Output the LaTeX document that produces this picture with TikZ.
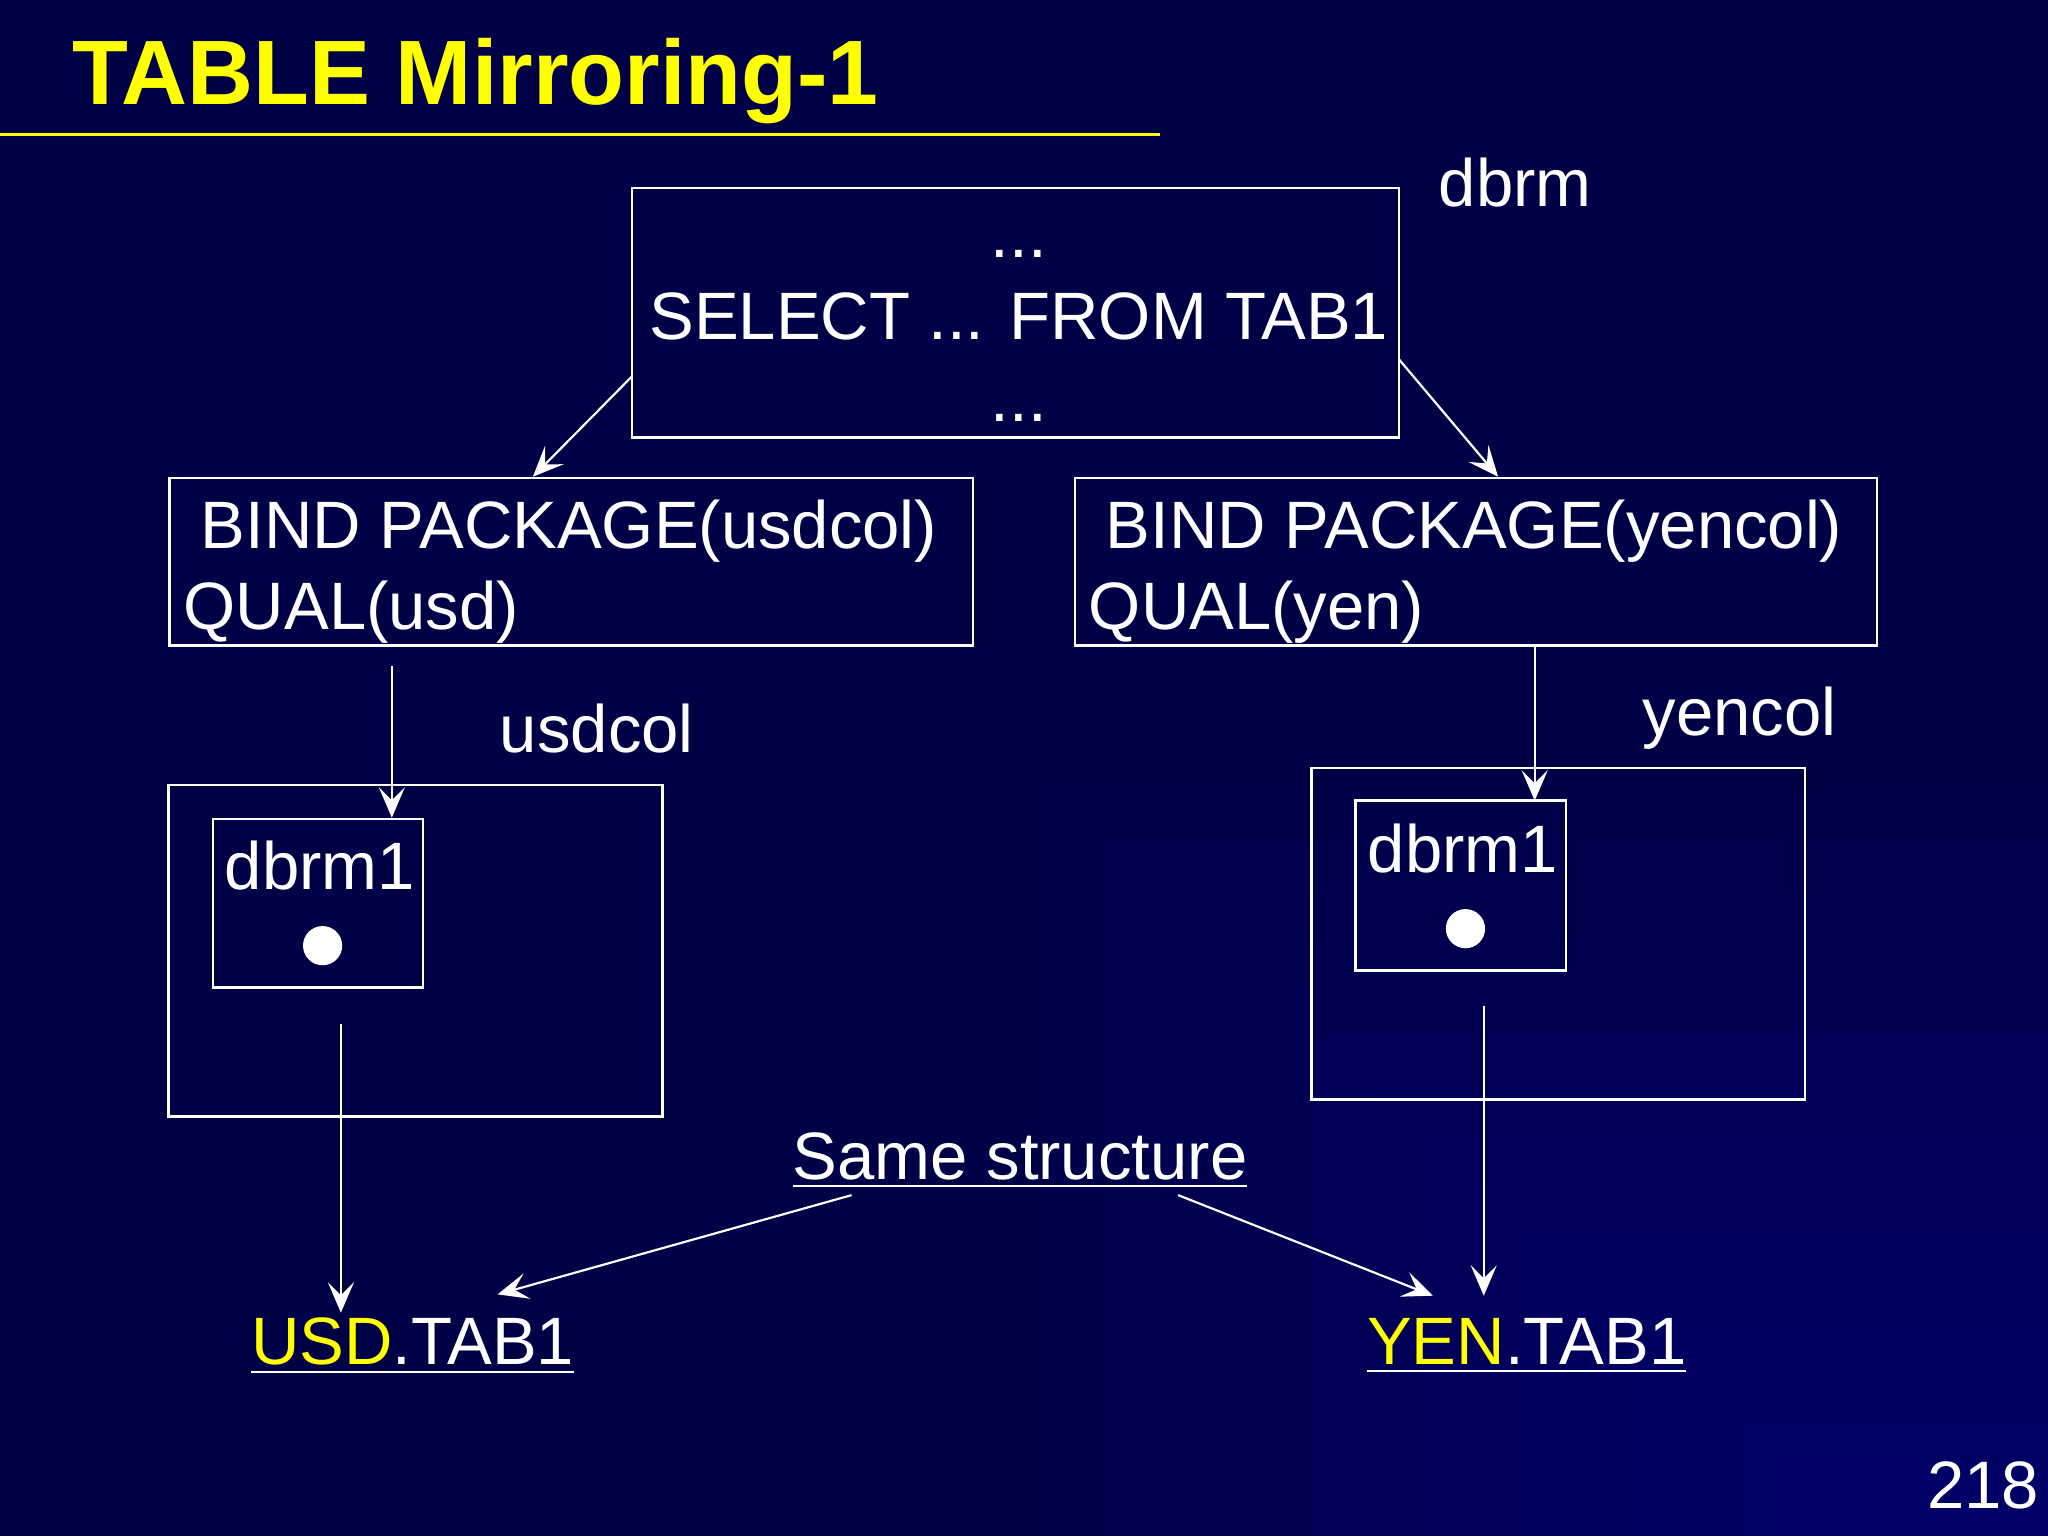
\documentclass[tikz,border=0pt]{standalone}
\usepackage{fontspec}
\setmainfont{Liberation Sans}
\usetikzlibrary{arrows.meta}
\definecolor{bg}{HTML}{000046}
\definecolor{yel}{HTML}{FFFF00}
\begin{document}
\begin{tikzpicture}[x=0.3pt,y=-0.3pt,
  box/.style={draw=white,line width=0.6pt},
  txt/.style={text=white,font=\fontsize{15.4}{18}\selectfont,inner sep=0pt},
  arr/.style={draw=white,line width=0.5pt,-{Stealth[length=7pt,width=6pt,inset=3pt]}}]
\fill[bg] (0,0) rectangle (1568,1176);
\foreach \i in {0,...,14}{
  \pgfmathsetmacro\c{2+\i*1.1}
  \fill[blue!\c!bg] (805+\i*40,608+\i*37) rectangle (1568,1176);
}
\useasboundingbox (0,0) rectangle (1568,1176);
\node[anchor=base west,text=yel,font=\bfseries\fontsize{21}{25}\selectfont,inner sep=0pt] (title) at (55,80) {TABLE Mirroring-1};
\draw[yel,line width=0.6pt] (0,103) -- (888,103);
% top box
\draw[box] (484,144) rectangle (1071,335);
\node[txt,anchor=base] (d1) at (780,197) {...};
\node[txt,anchor=base] (sel) at (780,260) {SELECT ... FROM TAB1};
\node[txt,anchor=base] (d2) at (780,323) {...};
\node[txt,anchor=base] (dbrm) at (1160,158) {dbrm};
% bind boxes
\draw[box] (130,366) rectangle (745,494);
\node[txt,anchor=base west] (b1) at (153,420) {BIND PACKAGE(usdcol)};
\node[txt,anchor=base west] (q1) at (140,482) {QUAL(usd)};
\draw[box] (823,366) rectangle (1437,494);
\node[txt,anchor=base west] (b2) at (846,420) {BIND PACKAGE(yencol)};
\node[txt,anchor=base west] (q2) at (833,482) {QUAL(yen)};
\coordinate (t1) at (484,288); \coordinate (t2) at (408,365);
\coordinate (t3) at (1071,275); \coordinate (t4) at (1147,365);
\draw[arr] (t1) -- (t2);
\draw[arr] (t3) -- (t4);
% left
\node[txt,anchor=base] (uc) at (457,576) {usdcol};
\draw[box] (129,601) rectangle (507,855);
\draw[box] (163,627) rectangle (324,756);
\node[txt,anchor=base] (m1) at (245,681) {dbrm1};
\fill[white] (247,724) circle (15);
\coordinate (l1) at (300,510); \coordinate (l2) at (300,626);
\draw[arr] (l1) -- (l2);
% right
\node[txt,anchor=base] (yc) at (1332,563) {yencol};
\draw[box] (1004,588) rectangle (1382,842);
\draw[box] (1038,613) rectangle (1199,743);
\node[txt,anchor=base] (m2) at (1120,668) {dbrm1};
\fill[white] (1122,711) circle (15);
\coordinate (r1) at (1175,494); \coordinate (r2) at (1175,613);
\draw[arr] (r1) -- (r2);
% bottom
\node[txt,anchor=base] (same) at (781,903) {\underline{Same structure}};
\node[txt,anchor=base] (usd) at (316,1045) {\underline{\textcolor{yel}{USD}.TAB1}};
\node[txt,anchor=base] (yen) at (1169,1045) {\underline{\textcolor{yel}{YEN}.TAB1}};
\coordinate (a1) at (261,784); \coordinate (a2) at (261,1005);
\coordinate (a3) at (1136,770); \coordinate (a4) at (1136,992);
\coordinate (s1) at (652,915); \coordinate (s2) at (381,991);
\coordinate (s3) at (902,915); \coordinate (s4) at (1097,992);
\draw[arr] (a1) -- (a2);
\draw[arr] (a3) -- (a4);
\draw[arr] (s1) -- (s2);
\draw[arr] (s3) -- (s4);
\node[txt,anchor=base east] (pg) at (1562,1155) {218};
\end{tikzpicture}
\end{document}
